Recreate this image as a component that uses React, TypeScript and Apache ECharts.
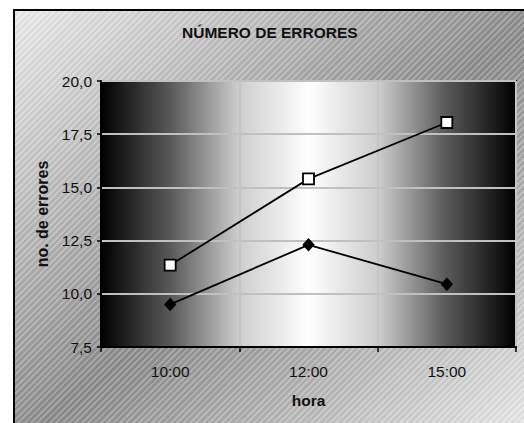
import React, { useEffect, useRef } from "react";
import * as echarts from "echarts";

const categories = ["10:00", "12:00", "15:00"];
const seriesSquares = [11.35, 15.4, 18.05];
const seriesDiamonds = [9.5, 12.3, 10.45];
const yMin = 7.5;
const yMax = 20;
const yInterval = 2.5;

const FONT = "'Liberation Sans', Arial, sans-serif";

export default function App() {
  const ref = useRef<HTMLDivElement>(null);

  useEffect(() => {
    if (!ref.current) return;
    const chart = echarts.init(ref.current, null, { renderer: "svg" });
    const plotGradient = new echarts.graphic.LinearGradient(0, 0, 1, 0, [
      { offset: 0, color: "#000000" },
      { offset: 0.17, color: "#5a5a5a" },
      { offset: 0.33, color: "#cccccc" },
      { offset: 0.5, color: "#ffffff" },
      { offset: 0.67, color: "#cccccc" },
      { offset: 0.83, color: "#5a5a5a" },
      { offset: 1, color: "#000000" },
    ]);
    chart.setOption({
      animation: false,
      backgroundColor: "transparent",
      title: {
        text: "NÚMERO DE ERRORES",
        left: 182,
        top: 24,
        padding: 0,
        textStyle: {
          fontFamily: FONT,
          fontSize: 15.5,
          fontWeight: "bold",
          color: "#111",
        },
      },
      grid: {
        left: 101,
        right: 8,
        top: 81,
        bottom: 76,
        show: true,
        backgroundColor: plotGradient,
        borderColor: "#000",
        borderWidth: 2,
      },
      xAxis: {
        type: "category",
        data: categories,
        boundaryGap: true,
        axisLine: { show: true, lineStyle: { color: "#000", width: 2 } },
        axisTick: { show: true, length: 5, lineStyle: { color: "#000", width: 1.5 } },
        splitLine: { show: true, lineStyle: { color: "#c4c4c4", width: 2 } },
        axisLabel: {
          margin: 16,
          fontSize: 15.5,
          fontFamily: FONT,
          color: "#111",
        },
        name: "hora",
        nameLocation: "middle",
        nameGap: 45,
        nameTextStyle: {
          fontFamily: FONT,
          fontSize: 15.5,
          fontWeight: "bold",
          color: "#111",
        },
      },
      yAxis: {
        type: "value",
        min: yMin,
        max: yMax,
        interval: yInterval,
        axisLine: { show: true, lineStyle: { color: "#000", width: 2 } },
        axisTick: { show: true, length: 4, lineStyle: { color: "#000", width: 1.5 } },
        splitLine: { show: true, lineStyle: { color: "#c0c0c0", width: 2 } },
        axisLabel: {
          margin: 9,
          fontSize: 15.5,
          fontFamily: FONT,
          color: "#111",
          formatter: (v: number) => v.toFixed(1).replace(".", ","),
        },
        name: "no. de errores",
        nameLocation: "middle",
        nameGap: 51,
        nameRotate: 90,
        nameTextStyle: {
          fontFamily: FONT,
          fontSize: 16,
          fontWeight: "bold",
          color: "#111",
        },
      },
      series: [
        {
          type: "line",
          data: seriesDiamonds,
          symbol: "diamond",
          symbolSize: [11, 12],
          itemStyle: { color: "#000", borderColor: "#000", borderWidth: 1 },
          lineStyle: { color: "#000", width: 1.8 },
          z: 3,
        },
        {
          type: "line",
          data: seriesSquares,
          symbol: "rect",
          symbolSize: [11, 11],
          itemStyle: { color: "#fff", borderColor: "#000", borderWidth: 1.8 },
          lineStyle: { color: "#000", width: 1.8 },
          z: 4,
        },
      ],
    });
    return () => chart.dispose();
  }, []);

  return (
    <div
      style={{
        position: "fixed",
        left: 0,
        top: 0,
        width: 524,
        height: 423,
        overflow: "hidden",
        background: "#fff",
      }}
    >
      <div
        style={{
          position: "absolute",
          left: 13,
          top: 9,
          width: 540,
          height: 440,
          border: "2px solid #000",
          backgroundImage:
            "repeating-linear-gradient(135deg, rgba(255,255,255,0.2) 0px, rgba(255,255,255,0.2) 2px, rgba(0,0,0,0.03) 2px, rgba(0,0,0,0.03) 4.5px), linear-gradient(to bottom right, #ebebeb 0%, #8a8a8a 50%, #f4f4f4 100%)",
        }}
      />
      <div
        ref={ref}
        style={{ position: "absolute", left: 0, top: 0, width: 524, height: 423 }}
      />
    </div>
  );
}
